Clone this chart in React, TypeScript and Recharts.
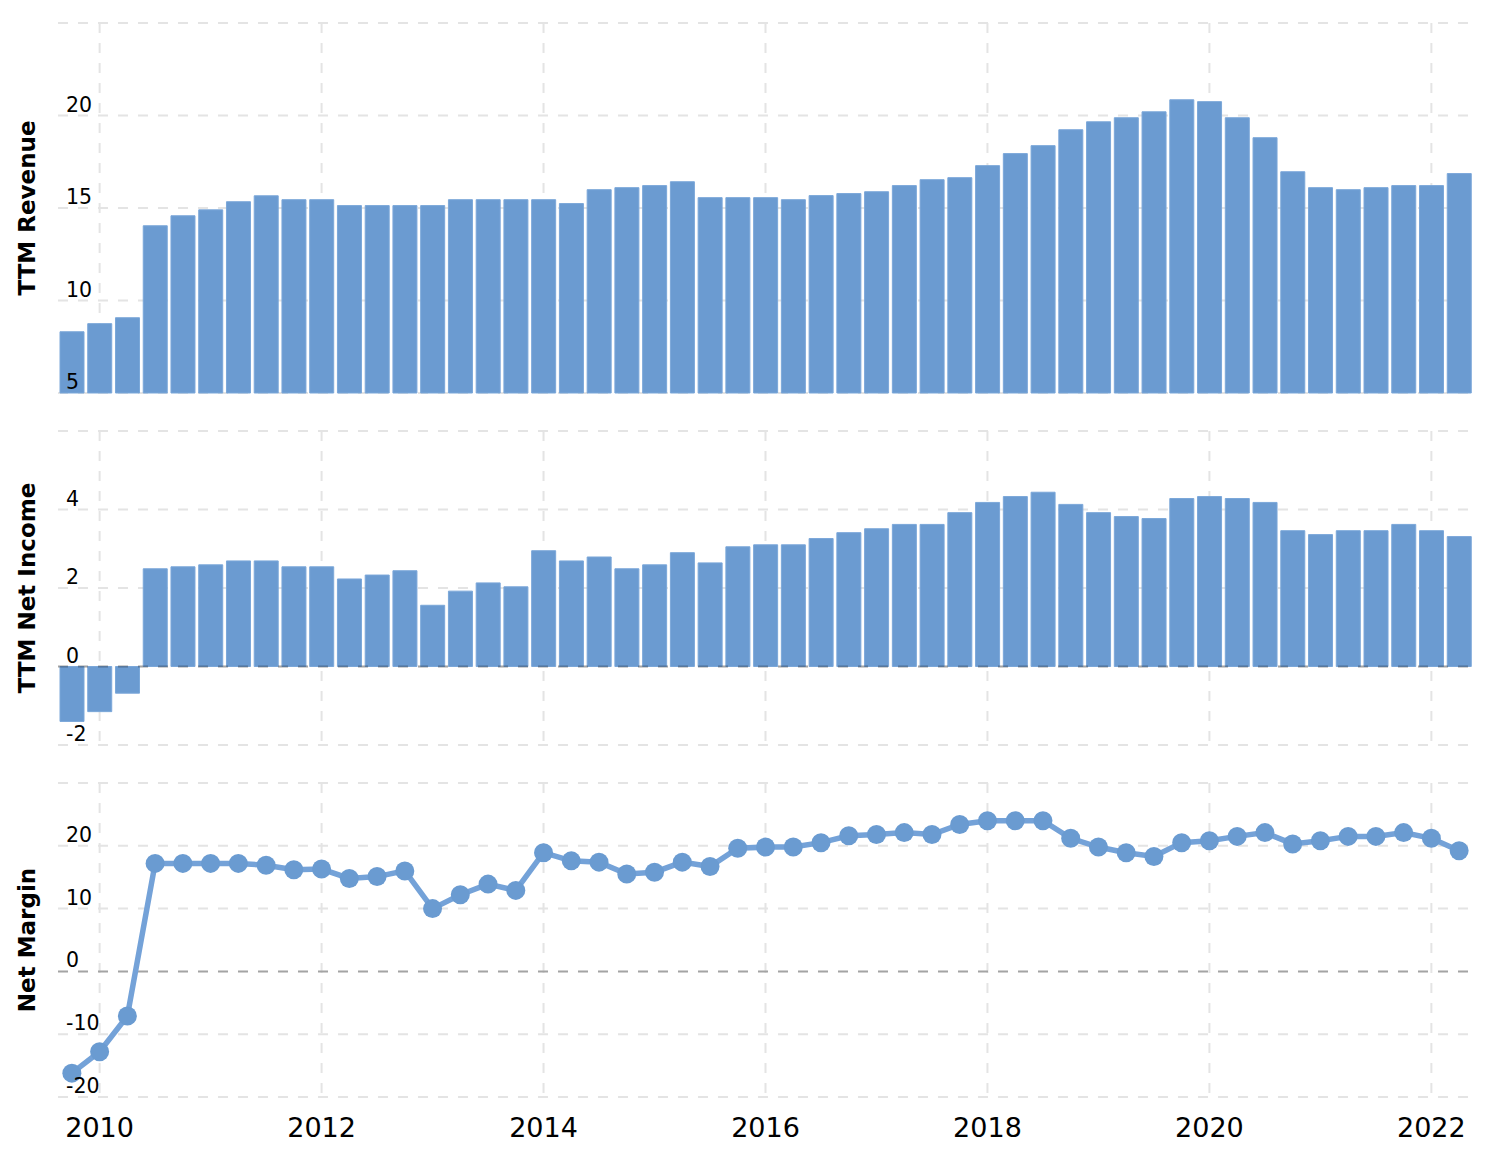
import {
  ComposedChart,
  Bar,
  Line,
  XAxis,
  YAxis,
  CartesianGrid,
  ReferenceLine,
} from 'recharts';

const quarters = [
  '2009-09-30', '2009-12-31', '2010-03-31', '2010-06-30', '2010-09-30', '2010-12-31',
  '2011-03-31', '2011-06-30', '2011-09-30', '2011-12-31', '2012-03-31', '2012-06-30',
  '2012-09-30', '2012-12-31', '2013-03-31', '2013-06-30', '2013-09-30', '2013-12-31',
  '2014-03-31', '2014-06-30', '2014-09-30', '2014-12-31', '2015-03-31', '2015-06-30',
  '2015-09-30', '2015-12-31', '2016-03-31', '2016-06-30', '2016-09-30', '2016-12-31',
  '2017-03-31', '2017-06-30', '2017-09-30', '2017-12-31', '2018-03-31', '2018-06-30',
  '2018-09-30', '2018-12-31', '2019-03-31', '2019-06-30', '2019-09-30', '2019-12-31',
  '2020-03-31', '2020-06-30', '2020-09-30', '2020-12-31', '2021-03-31', '2021-06-30',
  '2021-09-30', '2021-12-31', '2022-03-31',
];

const ttmRevenue = [
  8.31, 8.75, 9.07, 14.04, 14.58, 14.9, 15.34, 15.66, 15.45, 15.45, 15.13, 15.13,
  15.13, 15.13, 15.45, 15.45, 15.45, 15.45, 15.24, 15.99, 16.1, 16.21, 16.42, 15.56,
  15.56, 15.56, 15.45, 15.67, 15.78, 15.88, 16.21, 16.53, 16.64, 17.29, 17.94, 18.37,
  19.23, 19.66, 19.88, 20.2, 20.85, 20.75, 19.88, 18.8, 16.96, 16.1, 15.99, 16.1,
  16.21, 16.21, 16.86,
];

const ttmNetIncome = [
  -1.4, -1.15, -0.68, 2.49, 2.54, 2.59, 2.69, 2.69, 2.54, 2.54, 2.23, 2.33,
  2.44, 1.56, 1.92, 2.13, 2.03, 2.95, 2.69, 2.79, 2.49, 2.59, 2.9, 2.64,
  3.05, 3.1, 3.1, 3.26, 3.41, 3.51, 3.62, 3.62, 3.92, 4.18, 4.33, 4.44,
  4.13, 3.92, 3.82, 3.77, 4.28, 4.33, 4.28, 4.18, 3.46, 3.36, 3.46, 3.46,
  3.62, 3.46, 3.31,
];

const netMargin = [
  -16.2, -12.8, -7.1, 17.2, 17.2, 17.2, 17.2, 16.9, 16.2, 16.3, 14.8, 15.1,
  16.0, 10.0, 12.2, 13.9, 12.9, 18.9, 17.6, 17.4, 15.5, 15.8, 17.4, 16.7,
  19.6, 19.8, 19.8, 20.5, 21.6, 21.8, 22.1, 21.8, 23.4, 24.0, 24.0, 24.0,
  21.2, 19.8, 18.9, 18.3, 20.5, 20.8, 21.5, 22.1, 20.3, 20.8, 21.5, 21.5,
  22.1, 21.2, 19.2,
];

// year gridlines sit on the quarter closest to Jan 1
const yearTickDates = ['2009-12-31', '2011-12-31', '2013-12-31', '2015-12-31', '2017-12-31', '2019-12-31', '2021-12-31'];
const yearTickLabels = ['2010', '2012', '2014', '2016', '2018', '2020', '2022'];

const revenueTicks = [5, 10, 15, 20, 25];
const incomeTicks = [-2, 0, 2, 4, 6];
const marginTicks = [-20, -10, 0, 10, 20, 30];

const data = quarters.map((q, i) => ({
  q,
  revenue: ttmRevenue[i],
  income: ttmNetIncome[i],
  margin: netMargin[i],
}));

const BAR_FILL = '#6b9bd1';
const BAR_STROKE = '#7ba7d9';
const GRID = '#e4e4e4';
const FONT = '"DejaVu Sans", Verdana, sans-serif';
const WIDTH = 1494;
const MARGIN_RIGHT = 21;
const AXIS_W = 58;

const makeYTick = (skip: number) => (props: any) => {
  const { x, y, payload } = props;
  if (payload.value === skip) return <g />;
  return (
    <text x={x + 8} y={y - 4} fontSize={20.5} fill="#000" fontFamily={FONT}>
      {payload.value}
    </text>
  );
};

const makeTitle = (title: string) => (props: any) => {
  const { x, y, height } = props.viewBox;
  const cx = x + 27;
  const cy = y + height / 2;
  return (
    <text
      x={cx}
      y={cy}
      transform={`rotate(-90 ${cx} ${cy})`}
      textAnchor="middle"
      dominantBaseline="central"
      fontSize={23}
      fontWeight="bold"
      fill="#000"
      fontFamily={FONT}
    >
      {title}
    </text>
  );
};

const XTick = (props: any) => {
  const { x, y, payload } = props;
  const label = yearTickLabels[yearTickDates.indexOf(payload.value)];
  return (
    <text x={x} y={y} dy="0.71em" textAnchor="middle" fontSize={27} fill="#000" fontFamily={FONT}>
      {label}
    </text>
  );
};

// keeps the year ticks (for the grid) without drawing any label
const NoTick = () => <g />;

const hiddenX = (
  <XAxis
    dataKey="q"
    scale="band"
    ticks={yearTickDates}
    interval={0}
    height={0}
    tick={NoTick}
    axisLine={false}
    tickLine={false}
    tickSize={0}
  />
);

const yAxisProps = {
  width: AXIS_W,
  axisLine: false,
  tickLine: false,
  tickSize: 0,
  tickMargin: 0,
  interval: 0 as const,
};

export default function App() {
  return (
    <div style={{ position: 'absolute', left: 0, top: 0, width: WIDTH, height: 1158, background: '#fff' }}>
      <div style={{ position: 'absolute', left: 0, top: 0 }}>
        <ComposedChart width={WIDTH} height={400} data={data} margin={{ top: 23, right: MARGIN_RIGHT, bottom: 7, left: 0 }} barSize={24}>
          <CartesianGrid stroke={GRID} strokeWidth={2} strokeDasharray="10 10" syncWithTicks />
          {hiddenX}
          <YAxis
            {...yAxisProps}
            domain={[5, 25]}
            ticks={revenueTicks}
            tick={makeYTick(25)}
            label={{ content: makeTitle('TTM Revenue') }}
          />
          <Bar dataKey="revenue" fill={BAR_FILL} stroke={BAR_STROKE} strokeWidth={1} isAnimationActive={false} />
        </ComposedChart>
      </div>
      <div style={{ position: 'absolute', left: 0, top: 400 }}>
        <ComposedChart width={WIDTH} height={355} data={data} margin={{ top: 31, right: MARGIN_RIGHT, bottom: 10, left: 0 }} barSize={24}>
          <CartesianGrid stroke={GRID} strokeWidth={2} strokeDasharray="10 10" syncWithTicks />
          {hiddenX}
          <YAxis
            {...yAxisProps}
            domain={[-2, 6]}
            ticks={incomeTicks}
            tick={makeYTick(6)}
            label={{ content: makeTitle('TTM Net Income') }}
          />
          <Bar dataKey="income" fill={BAR_FILL} stroke={BAR_STROKE} strokeWidth={1} isAnimationActive={false} />
          <ReferenceLine y={0} stroke="#000" strokeOpacity={0.28} strokeWidth={2} strokeDasharray="10 10" />
        </ComposedChart>
      </div>
      <div style={{ position: 'absolute', left: 0, top: 755 }}>
        <ComposedChart width={WIDTH} height={403} data={data} margin={{ top: 28, right: MARGIN_RIGHT, bottom: 11, left: 0 }}>
          <CartesianGrid stroke={GRID} strokeWidth={2} strokeDasharray="10 10" syncWithTicks />
          <XAxis
            dataKey="q"
            scale="band"
            ticks={yearTickDates}
            interval={0}
            height={50}
            axisLine={false}
            tickLine={false}
            tickSize={0}
            tickMargin={21}
            tick={XTick}
          />
          <YAxis
            {...yAxisProps}
            domain={[-20, 30]}
            ticks={marginTicks}
            tick={makeYTick(30)}
            label={{ content: makeTitle('Net Margin') }}
          />
          <ReferenceLine y={0} stroke="#000" strokeOpacity={0.28} strokeWidth={2} strokeDasharray="10 10" />
          <Line
            dataKey="margin"
            type="linear"
            stroke="#74a2d8"
            strokeWidth={5.5}
            dot={{ r: 9.5, fill: '#6a9bd1', stroke: 'none' }}
            activeDot={false}
            isAnimationActive={false}
          />
        </ComposedChart>
      </div>
    </div>
  );
}
